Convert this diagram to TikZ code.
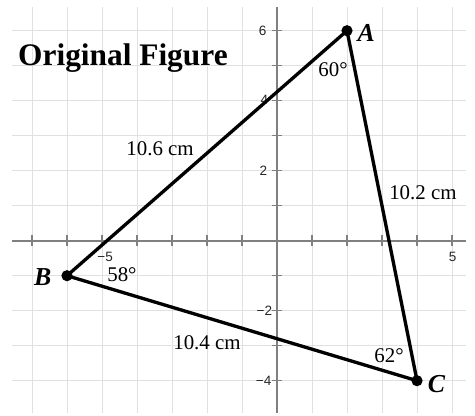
\documentclass[tikz,border=0pt]{standalone}
\usepackage{fontspec}
\setmainfont{Liberation Serif}
\newfontfamily\ticksfont{Liberation Sans}
\begin{document}
\begin{tikzpicture}[x=1cm,y=1cm,
  gridline/.style={draw=black!12, line width=0.7pt},
  axisline/.style={draw=black!50, line width=1.4pt},
  tickmark/.style={draw=black!50, line width=1.1pt},
  ticklabel/.style={font=\ticksfont\fontsize{11}{13}\selectfont, text=black!85, inner sep=0pt},
  side/.style={line width=2.7pt, line join=round},
  vdot/.style={circle, fill=black, inner sep=0pt, minimum size=0.32cm},
  measure/.style={font=\fontsize{17}{20}\selectfont, inner sep=0pt},
  vname/.style={font=\bfseries\itshape\fontsize{21}{24}\selectfont, inner sep=0pt},
  titletext/.style={font=\bfseries\fontsize{25.5}{30}\selectfont, inner sep=0pt, anchor=base west},
]
\useasboundingbox (-7.914,-4.98) rectangle (5.657,6.877);
% grid
\foreach \x in {-7,...,5} \draw[gridline] (\x,-4.92) -- (\x,6.69);
\foreach \y in {-4,...,6} \draw[gridline] (-7.56,\y) -- (5.41,\y);
% axes
\draw[axisline] (-7.56,0) -- (5.41,0);
\draw[axisline] (0,-4.92) -- (0,6.69);
\foreach \x in {-7,...,-1,1,2,3,4,5} \draw[tickmark] (\x,-0.15) -- (\x,0.15);
\foreach \y in {-4,...,-1,1,2,...,6} \draw[tickmark] (-0.15,\y) -- (0.15,\y);
% tick labels
\node[ticklabel] (tx5m) at (-4.91,-0.46) {−5};
\node[ticklabel] (tx5) at (5.02,-0.46) {5};
\node[ticklabel] (ty6) at (-0.41,6) {6};
\node[ticklabel] (ty4) at (-0.36,4.02) {4};
\node[ticklabel] (ty2) at (-0.39,2) {2};
\node[ticklabel] (ty2m) at (-0.36,-2.0) {−2};
\node[ticklabel] (ty4m) at (-0.38,-4.0) {−4};
% title
\node[titletext] (title) at (-7.4,5.0) {Original Figure};
% triangle
\coordinate (A) at (2,6);
\coordinate (B) at (-6,-1);
\coordinate (C) at (4,-4);
\draw[side] (A) -- (B) -- (C) -- cycle;
\node[vdot] (dA) at (A) {};
\node[vdot] (dB) at (B) {};
\node[vdot] (dC) at (C) {};
% vertex names
\node[vname] (lA) at (2.55,5.93) {A};
\node[vname] (lB) at (-6.69,-1.04) {B};
\node[vname] (lC) at (4.56,-4.09) {C};
% measures
\node[measure] (sAB) at (-3.34,2.62) {10.6 cm};
\node[measure] (sAC) at (4.17,1.37) {10.2 cm};
\node[measure] (sBC) at (-2.0,-2.92) {10.4 cm};
\node[measure] (angA) at (1.6,4.88) {60°};
\node[measure] (angB) at (-4.43,-0.98) {58°};
\node[measure] (angC) at (3.2,-3.29) {62°};
\end{tikzpicture}
\end{document}
